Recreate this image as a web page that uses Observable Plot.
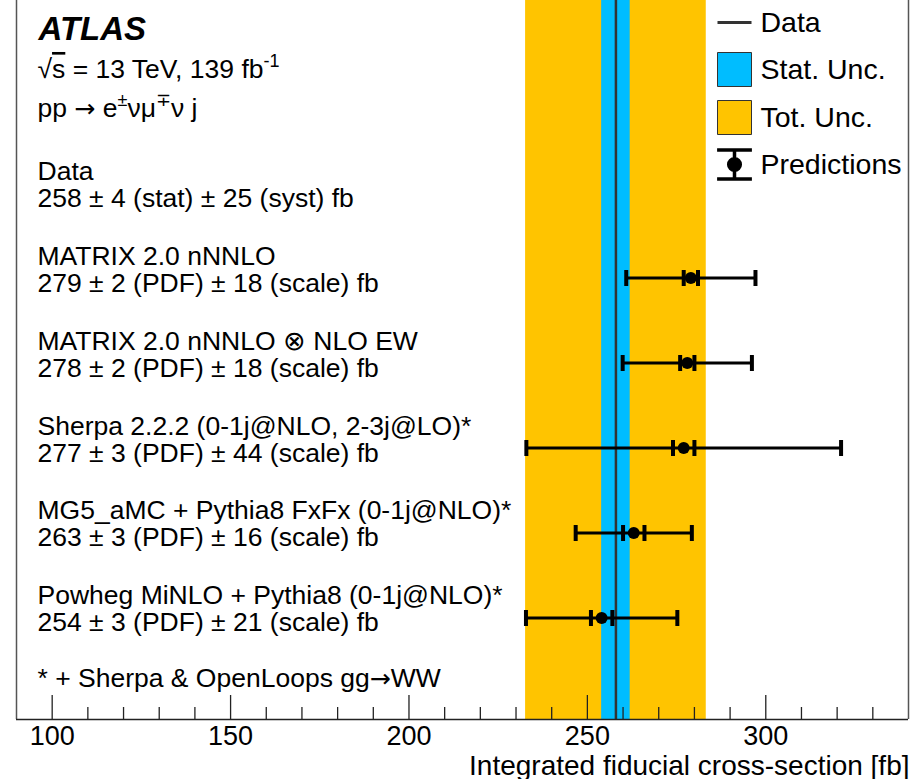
<!DOCTYPE html>
<html>
<head>
<meta charset="utf-8">
<script src="https://cdn.jsdelivr.net/npm/d3@7"></script>
<script src="https://cdn.jsdelivr.net/npm/@observablehq/plot@0.6"></script>
<style>
  body { margin: 0; background: white; }
  #chart svg { display: block; }
</style>
</head>
<body>
<div id="chart"></div>
<script>
// Measured cross-section (fb)
const dataValue = 258;
const dataStat = 4;
const dataSyst = 25;

// Theory predictions
const models = [
  "MATRIX 2.0 nNNLO",
  "MATRIX 2.0 nNNLO \u2297 NLO EW",
  "Sherpa 2.2.2 (0-1j@NLO, 2-3j@LO)*",
  "MG5_aMC + Pythia8 FxFx (0-1j@NLO)*",
  "Powheg MiNLO + Pythia8 (0-1j@NLO)*"
];
const central = [279, 278, 277, 263, 254];
const pdfUnc = [2, 2, 3, 3, 3];
const scaleUnc = [18, 18, 44, 16, 21];

// Header, footnote and legend texts
const headerLines = ["ATLAS", "\u221A~{s} = 13 TeV, 139 fb^{-1}", "pp \u2192 e^{\u00B1}\u03BD\u03BC^{\u2213}\u03BD j"];
const footnote = "* + Sherpa & OpenLoops gg\u2192WW";
const legendLabels = ["Data", "Stat. Unc.", "Tot. Unc.", "Predictions"];
const axisTitle = "Integrated fiducial cross-section [fb]";

// Axis ticks
const xDomain = [90, 340];
const majorTicks = [100, 150, 200, 250, 300];
const minorTicks = [110, 120, 130, 140, 160, 170, 180, 190, 210, 220, 230, 240, 260, 270, 280, 290, 310, 320, 330];

// Colours
const orange = "#ffc400";
const blue = "#00bdff";
const dark = "#333333";

// Layout
const W = 914, H = 779;
const margin = {top: 0, right: 6, bottom: 60, left: 16};
const plotH = H - margin.top - margin.bottom;
const rowDomain = [-2.265, 6.194];   // row 0 = data, rows 1..5 = predictions
const FS = 26.5;

const dataTot = Math.sqrt(dataStat ** 2 + dataSyst ** 2);
const preds = models.map((name, i) => {
  const tot = Math.hypot(pdfUnc[i], scaleUnc[i]);
  return {
    name, row: i + 1, c: central[i], pdf: pdfUnc[i], scale: scaleUnc[i], tot,
    line2: `${central[i]} \u00B1 ${pdfUnc[i]} (PDF) \u00B1 ${scaleUnc[i]} (scale) fb`
  };
});
const caps = preds.flatMap(d => [d.c - d.tot, d.c + d.tot, d.c - d.pdf, d.c + d.pdf].map(x => ({x, row: d.row})));
const textRows = [
  {row: 0, l1: "Data", l2: `${dataValue} \u00B1 ${dataStat} (stat) \u00B1 ${dataSyst} (syst) fb`},
  ...preds.map(d => ({row: d.row, l1: d.name, l2: d.line2}))
];

// Custom symbols
const capSymbol = {draw(ctx, size) { const r = Math.sqrt(size / Math.PI); ctx.moveTo(0, -r); ctx.lineTo(0, r); }};
const hlineSymbol = {draw(ctx, size) { const r = Math.sqrt(size / Math.PI); ctx.moveTo(-r, 0); ctx.lineTo(r, 0); }};
const errSymbol = {draw(ctx, size) {
  const r = Math.sqrt(size / Math.PI);
  const w = r * 1.2;
  ctx.moveTo(-w, -r); ctx.lineTo(w, -r);
  ctx.moveTo(-w, r); ctx.lineTo(w, r);
  ctx.moveTo(0, -r); ctx.lineTo(0, r);
  const c = r * 0.4;
  ctx.moveTo(c, 0); ctx.arc(0, 0, c, 0, 2 * Math.PI);
}};

// Legend marks (anchored to the top-right corner of the frame)
const legY = [22, 69, 117, 164];
const legSwatchDx = -174, legTextDx = -148;
const legendMarks = [
  Plot.dot([0], {frameAnchor: "top-right", dx: legSwatchDx, dy: legY[0], symbol: hlineSymbol, r: 17, stroke: dark, strokeWidth: 3, fill: "none"}),
  Plot.dot([0], {frameAnchor: "top-right", dx: legSwatchDx, dy: legY[1], symbol: "square", r: 34 / Math.sqrt(Math.PI), fill: blue, stroke: dark, strokeWidth: 1}),
  Plot.dot([0], {frameAnchor: "top-right", dx: legSwatchDx, dy: legY[2], symbol: "square", r: 34 / Math.sqrt(Math.PI), fill: orange, stroke: dark, strokeWidth: 1}),
  Plot.dot([0], {frameAnchor: "top-right", dx: legSwatchDx, dy: legY[3], symbol: errSymbol, r: 14.5, fill: "black", stroke: "black", strokeWidth: 3.5}),
  ...legendLabels.map((label, i) => Plot.text([label], {
    text: d => d, frameAnchor: "top-right", dx: legTextDx, dy: legY[i],
    textAnchor: "start", lineAnchor: "middle", fontSize: 28.5, fill: "black"
  }))
];

const chart = Plot.plot({
  width: W, height: H,
  marginTop: margin.top, marginRight: margin.right, marginBottom: margin.bottom, marginLeft: margin.left,
  style: {fontFamily: "'Liberation Sans', Arial, Helvetica, sans-serif", background: "white", overflow: "visible"},
  x: {domain: xDomain, axis: null},
  y: {domain: rowDomain, reverse: true, axis: null},
  marks: [
    // total and statistical uncertainty bands of the measurement
    Plot.rect([0], {x1: () => dataValue - dataTot, x2: () => dataValue + dataTot, fill: orange}),
    Plot.rect([0], {x1: () => dataValue - dataStat, x2: () => dataValue + dataStat, fill: blue}),
    Plot.ruleX([dataValue], {stroke: dark, strokeWidth: 2.5}),

    // frame
    Plot.ruleX([xDomain[0]], {stroke: "#555", strokeWidth: 1.5}),
    Plot.ruleX([xDomain[1]], {stroke: "#555", strokeWidth: 1.5}),
    Plot.ruleY([rowDomain[1]], {stroke: "#222", strokeWidth: 1.5}),

    // ticks pointing into the frame
    Plot.ruleX(majorTicks, {stroke: "#222", strokeWidth: 1.3, insetTop: plotH - 24}),
    Plot.ruleX(minorTicks, {stroke: "#222", strokeWidth: 1.3, insetTop: plotH - 12}),
    Plot.axisX({ticks: majorTicks, tickSize: 0, tickPadding: 6, fontSize: 27, label: null}),
    Plot.text([axisTitle], {text: d => d, frameAnchor: "bottom-right", textAnchor: "end", lineAnchor: "middle", dx: 1, dy: 47, fontSize: 28, fill: "black"}),

    // predictions: total uncertainty bar, caps at total and PDF uncertainties, central value
    Plot.ruleY(preds, {y: "row", x1: d => d.c - d.tot, x2: d => d.c + d.tot, stroke: "black", strokeWidth: 3}),
    Plot.dot(caps, {x: "x", y: "row", symbol: capSymbol, r: 8, stroke: "black", strokeWidth: 4, fill: "none"}),
    Plot.dot(preds, {x: "c", y: "row", r: 6, fill: "black"}),

    // labels on the left
    Plot.text(textRows, {y: "row", text: "l1", frameAnchor: "left", dx: 21, dy: -22, textAnchor: "start", lineAnchor: "middle", fontSize: FS, fill: "black"}),
    Plot.text(textRows, {y: "row", text: "l2", frameAnchor: "left", dx: 21, dy: 5, textAnchor: "start", lineAnchor: "middle", fontSize: FS, fill: "black"}),

    // header block
    Plot.text([headerLines[0]], {text: d => d, frameAnchor: "top-left", dx: 22, dy: 29, textAnchor: "start", lineAnchor: "middle", fontSize: 33, fontWeight: "bold", fontStyle: "italic", fill: "black"}),
    Plot.text([headerLines[1]], {text: d => d, frameAnchor: "top-left", dx: 21, dy: 69, textAnchor: "start", lineAnchor: "middle", fontSize: FS, fill: "black"}),
    Plot.text([headerLines[2]], {text: d => d, frameAnchor: "top-left", dx: 21, dy: 108, textAnchor: "start", lineAnchor: "middle", fontSize: FS, fill: "black"}),

    // footnote
    Plot.text([footnote], {text: d => d, frameAnchor: "bottom-left", dx: 21, dy: -41, textAnchor: "start", lineAnchor: "middle", fontSize: FS, fill: "black"}),

    ...legendMarks
  ]
});

// Rich text: ^{..} superscripts, ~{..} overlines, arrows in a font with a long arrow glyph
d3.select(chart).selectAll("text").each(function () {
  const el = this;
  const src = el.textContent;
  if (!/[\^~]\{|\u2192/.test(src)) return;
  const fs = parseFloat(el.getAttribute("font-size")) || parseFloat(getComputedStyle(el).fontSize) || FS;
  const sel = d3.select(el);
  while (el.firstChild) el.removeChild(el.firstChild);
  const parts = src.split(/(\^\{[^}]*\}|~\{[^}]*\}|\u2192)/).filter(s => s.length);
  let shifted = 0;
  for (const p of parts) {
    const t = sel.append("tspan");
    if (p.startsWith("^{")) {
      t.text(p.slice(2, -1)).attr("font-size", fs * 0.68).attr("dy", -fs * 0.4 - shifted);
      shifted = -fs * 0.4;
      continue;
    }
    if (p.startsWith("~{")) {
      t.text(p.slice(2, -1)).style("text-decoration", "overline");
    } else if (p === "\u2192") {
      t.text(p).attr("font-family", "'DejaVu Sans'").attr("font-size", fs * 0.95);
    } else {
      t.text(p);
    }
    if (shifted) t.attr("dy", -shifted);
    shifted = 0;
  }
});

document.getElementById("chart").appendChild(chart);
</script>
</body>
</html>
